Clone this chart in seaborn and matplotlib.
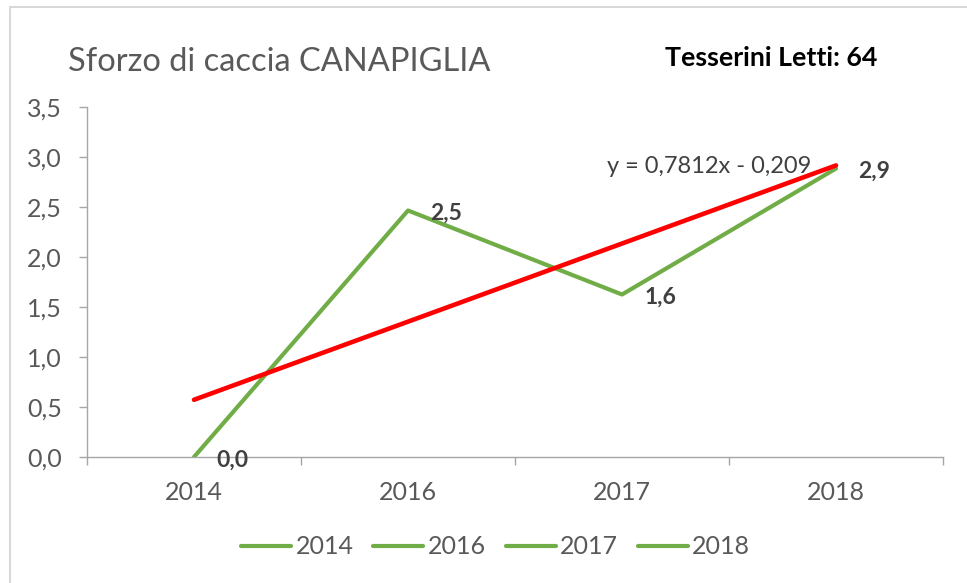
import numpy as np
import pandas as pd
import matplotlib
matplotlib.use("Agg")
import matplotlib.pyplot as plt
from matplotlib.lines import Line2D
from matplotlib.patches import Rectangle
import seaborn as sns

# ---- data ----
categories = ["2014", "2016", "2017", "2018"]
values = [0.0, 2.465, 1.625, 2.885]
trend_slope = 0.7812
trend_intercept = -0.209
trend_label = "y = 0,7812x - 0,209"
title_text = "Sforzo di caccia CANAPIGLIA"
side_text = "Tesserini Letti: 64"
y_ticks = [0.0, 0.5, 1.0, 1.5, 2.0, 2.5, 3.0, 3.5]

GREEN = "#70ad47"
RED = "#ff0000"
GRAY_TXT = "#595959"
DARK_TXT = "#404040"
AXIS = "#a6a6a6"

sns.set_style("white")
plt.rcParams["font.family"] = ["Lato", "DejaVu Sans"]

W, H = 967, 583
fig = plt.figure(figsize=(W / 100, H / 100), dpi=100)

# outer chart border (light gray, cropped on right/bottom)
fig.patches.append(Rectangle((10 / W, -0.1), 1.2, (H - 7) / H + 0.1, transform=fig.transFigure,
                             fill=False, edgecolor="#d9d9d9", linewidth=1.5))

left, right = 87 / W, 943 / W
bottom, top = (H - 457) / H, (H - 107) / H
ax = fig.add_axes([left, bottom, right - left, top - bottom])

idx = np.arange(len(categories))
df = pd.DataFrame({"x": idx, "y": values})
sns.lineplot(data=df, x="x", y="y", ax=ax, color=GREEN, linewidth=3.0, legend=False,
             solid_capstyle="round")

trend_x = idx.astype(float)
trend_y = trend_slope * (trend_x + 1) + trend_intercept
tdf = pd.DataFrame({"x": trend_x, "y": trend_y})
sns.lineplot(data=tdf, x="x", y="y", ax=ax, color=RED, linewidth=3.3, legend=False,
             solid_capstyle="round")

ax.set_xlim(-0.5, len(categories) - 0.5)
ax.set_ylim(0, 3.5)
ax.set_xlabel("")
ax.set_ylabel("")

# spines
for s in ["top", "right"]:
    ax.spines[s].set_visible(False)
for s in ["left", "bottom"]:
    ax.spines[s].set_color(AXIS)
    ax.spines[s].set_linewidth(1.0)

# y ticks
ax.set_yticks(y_ticks)
ax.set_yticklabels([f"{v:.1f}".replace(".", ",") for v in y_ticks])
ax.tick_params(axis="y", which="major", direction="out", length=6, width=1, color=AXIS,
               pad=12, labelsize=18, labelcolor=GRAY_TXT, left=True)

# x ticks: boundaries as major ticks, labels on minor ticks
ax.set_xticks(np.arange(-0.5, len(categories), 1.0))
ax.set_xticklabels([])
ax.set_xticks(idx, minor=True)
ax.set_xticklabels(categories, minor=True)
ax.tick_params(axis="x", which="major", direction="out", length=6, width=1, color=AXIS, bottom=True)
ax.tick_params(axis="x", which="minor", length=0, pad=17, labelsize=18, labelcolor=GRAY_TXT)

# data labels
for i, v in zip(idx, values):
    ax.annotate(f"{v:.1f}".replace(".", ","), (i, v), xytext=(16, -2), textcoords="offset points",
                ha="left", va="center", fontsize=16.5, fontweight="bold", color=DARK_TXT)

# trend equation
ax.annotate(trend_label, (3, trend_y[-1]), xytext=(-165, -1), textcoords="offset points",
            ha="left", va="center", fontsize=17, color=DARK_TXT)

# title & side text
fig.text(68 / W, 1 - 62 / H, title_text, ha="left", va="center", fontsize=23.5, color=GRAY_TXT)
fig.text(665 / W, 1 - 58 / H, side_text, ha="left", va="center", fontsize=19.3,
         fontweight="bold", color="black")

# legend
handles = [Line2D([0], [0], color=GREEN, linewidth=3.0, solid_capstyle="round") for _ in categories]
fig.legend(handles, categories, loc="center", bbox_to_anchor=(495.5 / W, 1 - 547 / H),
           ncol=len(categories), frameon=False, fontsize=18, labelcolor=GRAY_TXT,
           handlelength=2.0, handletextpad=0.16, columnspacing=0.8)

fig.savefig("out.png", dpi=100)
